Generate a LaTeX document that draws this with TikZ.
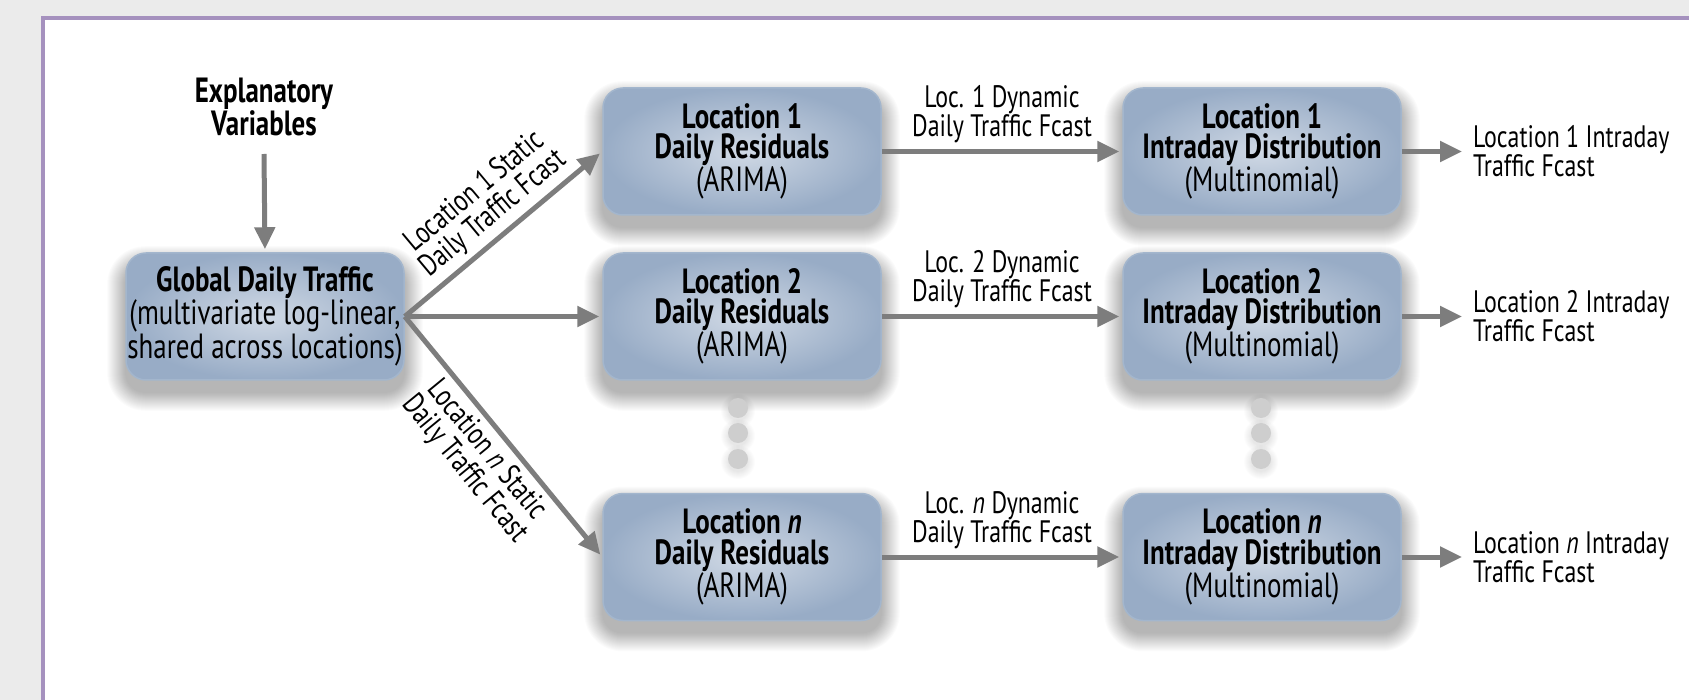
\documentclass[tikz,border=0pt]{standalone}
\usepackage{fontspec}
\setmainfont{PT Sans}[FakeStretch=0.77]
\usetikzlibrary{arrows.meta,calc,backgrounds}
\pgfdeclarelayer{frame}
\pgfsetlayers{frame,background,main}
\definecolor{boxin}{RGB}{208,217,229}
\definecolor{boxout}{RGB}{152,172,198}
\definecolor{boxline}{RGB}{163,182,205}
\definecolor{arrowgray}{RGB}{125,125,125}
\definecolor{framepurple}{RGB}{165,145,190}
\definecolor{pagegray}{RGB}{235,235,235}
\definecolor{dotgray}{RGB}{206,206,206}
\newcommand{\boxshadow}[1]{%
  \foreach \k in {0,...,18}{%
    \pgfmathsetmacro{\rr}{20+\k}%
    \fill[black,opacity=0.014,rounded corners=\rr pt]
      ($(#1.south west)+(-\k,\k+12)$) rectangle ($(#1.north east)+(\k,-\k+12)$);
  }}
\newcommand{\dotshadow}[1]{%
  \foreach \k in {0,...,7}{%
    \fill[black,opacity=0.012] ($(#1.center)+(0,3)$) circle[radius=10+\k];
  }}
\begin{document}
\begin{tikzpicture}[x=1pt,y=-1pt,
  every node/.style={font=\fontsize{31}{29}\selectfont, inner sep=0pt},
  box/.style={font=\fontsize{35}{30.5}\selectfont, rounded corners=20pt, minimum width=278pt, minimum height=127pt,
    align=center, draw=boxline, line width=1.5pt, inner color=boxin, outer color=boxout},
  headlbl/.style={font=\fontsize{35}{30.5}\selectfont\bfseries, align=center},
  arr/.style={draw=arrowgray, line width=5pt, -{Triangle[length=22pt,width=20pt]}},
  lbl/.style={align=center},
  outlbl/.style={align=left, anchor=west},
  dotnode/.style={circle, fill=dotgray, minimum size=20pt, inner sep=0pt}
]
\useasboundingbox (0,0) rectangle (1689,700);
\begin{pgfonlayer}{frame}
  \fill[pagegray] (0,0) rectangle (1689,700);
  \fill[white] (43,18) rectangle (1689,700);
  \draw[framepurple, line width=4pt] (43,700) -- (43,18) -- (1689,18);
\end{pgfonlayer}

% nodes
\node[headlbl] (ev) at (264,107) {Explanatory\\Variables};
\node[box] (g) at (265,316.5) {\textbf{Global Daily Traffic}\\(multivariate log-linear,\\shared across locations)};

\node[box] (l1) at (742,151.5) {\textbf{Location 1}\\\textbf{Daily Residuals}\\(ARIMA)};
\node[box] (l2) at (742,316.5) {\textbf{Location 2}\\\textbf{Daily Residuals}\\(ARIMA)};
\node[box] (ln) at (742,557) {\textbf{Location \textit{n}}\\\textbf{Daily Residuals}\\(ARIMA)};

\node[box] (i1) at (1262,151.5) {\textbf{Location 1}\\\textbf{Intraday Distribution}\\(Multinomial)};
\node[box] (i2) at (1262,316.5) {\textbf{Location 2}\\\textbf{Intraday Distribution}\\(Multinomial)};
\node[box] (in) at (1262,557) {\textbf{Location \textit{n}}\\\textbf{Intraday Distribution}\\(Multinomial)};

\node[outlbl] (t1) at (1473,151.5) {Location 1 Intraday\\Traffic Fcast};
\node[outlbl] (t2) at (1473,316.5) {Location 2 Intraday\\Traffic Fcast};
\node[outlbl] (tn) at (1473,557) {Location \textit{n} Intraday\\Traffic Fcast};

\node[dotnode] (da1) at (738,408) {};
\node[dotnode] (da2) at (738,433) {};
\node[dotnode] (da3) at (738,459) {};
\node[dotnode] (db1) at (1261,408) {};
\node[dotnode] (db2) at (1261,433) {};
\node[dotnode] (db3) at (1261,459) {};

% shadows
\begin{pgfonlayer}{background}
  \foreach \n in {g,l1,l2,ln,i1,i2,in}{\boxshadow{\n}}
  \foreach \n in {da1,da2,da3,db1,db2,db3}{\dotshadow{\n}}
\end{pgfonlayer}

% connectors
\coordinate (evs) at (264,154);
\draw[arr, shorten >=3pt] (evs) -- (g.north);
\draw[arr, shorten >=3pt] (g.east) -- (l1.west)
  node[lbl, sloped, above=5pt, pos=0.52] (s1) {Location 1 Static\\Daily Traffic Fcast};
\draw[arr, shorten >=3pt] (g.east) -- (l2.west);
\draw[arr, shorten >=3pt] (g.east) -- (ln.west)
  node[lbl, sloped, below=5pt, pos=0.5] (sn) {Location \textit{n} Static\\Daily Traffic Fcast};

\draw[arr, shorten >=3pt] (l1.east) -- (i1.west)
  node[lbl, midway, above=6pt] (d1) {Loc. 1 Dynamic\\Daily Traffic Fcast};
\draw[arr, shorten >=3pt] (l2.east) -- (i2.west)
  node[lbl, midway, above=6pt] (d2) {Loc. 2 Dynamic\\Daily Traffic Fcast};
\draw[arr, shorten >=3pt] (ln.east) -- (in.west)
  node[lbl, midway, above=6pt] (dn) {Loc. \textit{n} Dynamic\\Daily Traffic Fcast};

\draw[arr, shorten >=11pt] (i1.east) -- (t1.west);
\draw[arr, shorten >=11pt] (i2.east) -- (t2.west);
\draw[arr, shorten >=11pt] (in.east) -- (tn.west);
\end{tikzpicture}
\end{document}
